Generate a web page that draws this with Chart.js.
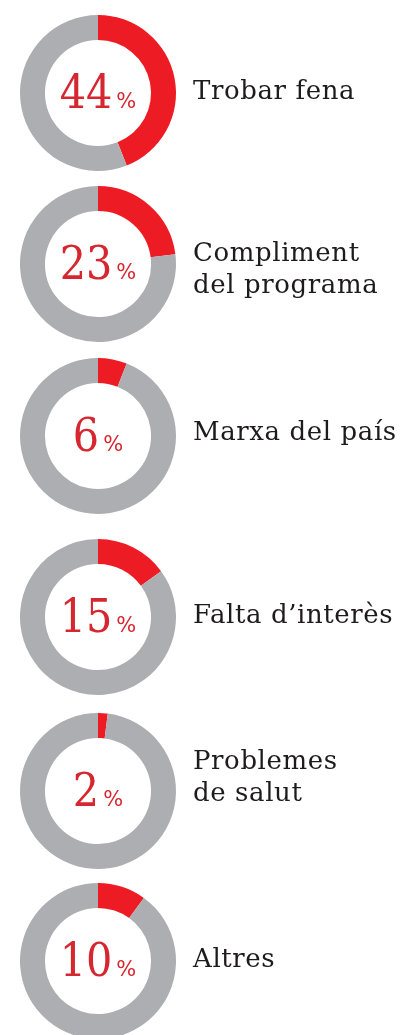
<!DOCTYPE html>
<html lang="ca">
<head>
  <meta charset="UTF-8">
  <title>Motius</title>
  <script src="https://cdn.jsdelivr.net/npm/chart.js@4.4.1/dist/chart.umd.min.js"></script>
  <style>
* {
  margin: 0;
  padding: 0;
  box-sizing: border-box;
}
html, body {
  width: 407px;
  height: 1035px;
  overflow: hidden;
  background: #fff;
}
.row {
  position: absolute;
  left: 0;
  width: 407px;
  height: 172px;
}
  </style>
</head>
<body>
  <div id="wrap"></div>
  <script>
    // dades
    const labels = [['Trobar fena'], ['Compliment', 'del programa'], ['Marxa del país'], ['Falta d\u2019interès'], ['Problemes', 'de salut'], ['Altres']];
    const percents = [44, 23, 6, 15, 2, 10];
    const rest = [56, 77, 94, 85, 98, 90];

    // posicio de cada rodona (centre vertical) i desplaçament del text
    const centersY = [92.5, 263.5, 436, 616.5, 791, 961];
    const labelShift = [6, 13, 4, 6, -6, 6];

    const red = '#ed1c24';
    const grey = '#adaeb2';
    const numRed = '#d62730';

    let wrap = document.getElementById('wrap');

    for (let i = 0; i < percents.length; i++) {
      let row = document.createElement('div');
      row.className = 'row';
      row.style.top = (centersY[i] - 86) + 'px';
      let cv = document.createElement('canvas');
      cv.width = 407;
      cv.height = 172;
      row.appendChild(cv);
      wrap.appendChild(row);

      let textPlugin = {
        id: 'textos' + i,
        afterDraw(chart) {
          let c = chart.ctx;
          let a = chart.chartArea;
          let cx = (a.left + a.right) / 2;
          let cy = (a.top + a.bottom) / 2;
          c.save();
          // percentatge al centre
          c.textBaseline = 'alphabetic';
          c.fillStyle = numRed;
          c.font = '46px "DejaVu Serif Condensed", "DejaVu Serif", serif';
          let num = String(percents[i]);
          let wNum = c.measureText(num).width;
          c.font = '21px "DejaVu Sans", sans-serif';
          let wPct = c.measureText('%').width;
          let gap = 4;
          let x0 = cx - (wNum + gap + wPct) / 2;
          c.textAlign = 'left';
          c.font = '46px "DejaVu Serif Condensed", "DejaVu Serif", serif';
          c.fillText(num, x0, cy + 15);
          c.font = '21px "DejaVu Sans", sans-serif';
          c.fillText('%', x0 + wNum + gap, cy + 15);
          // etiqueta
          c.fillStyle = '#1e1b1c';
          c.font = '26px "DejaVu Serif", serif';
          c.letterSpacing = '0.6px';
          let lines = labels[i];
          let lh = 32;
          for (let k = 0; k < lines.length; k++) {
            let y = cy + labelShift[i] + (k - (lines.length - 1) / 2) * lh;
            c.fillText(lines[k], 193, y);
          }
          c.restore();
        }
      };

      new Chart(cv, {
        type: 'doughnut',
        data: {
          labels: ['sí', 'resta'],
          datasets: [{
            data: [percents[i], rest[i]],
            backgroundColor: [red, grey],
            borderWidth: 0,
            hoverOffset: 0
          }]
        },
        options: {
          responsive: false,
          animation: false,
          cutout: '68%',
          layout: {
            padding: { left: 20, right: 231, top: 8, bottom: 8 }
          },
          plugins: {
            legend: { display: false },
            tooltip: { enabled: false }
          }
        },
        plugins: [textPlugin]
      });
    }
  </script>
</body>
</html>
